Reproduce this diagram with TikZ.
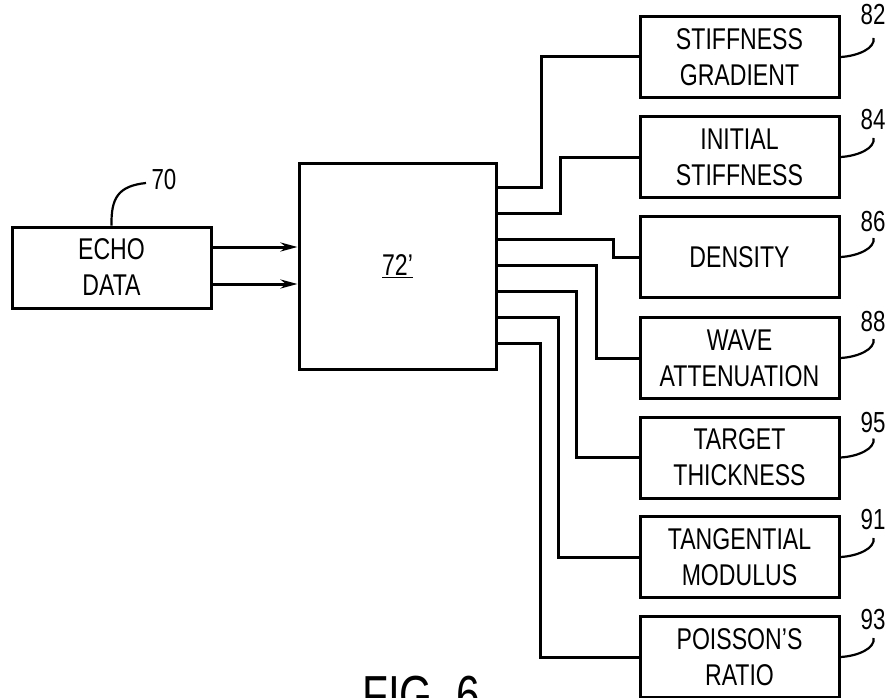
\documentclass[tikz,border=0pt]{standalone}
\usepackage{fontspec}
\setmainfont{Liberation Sans}[FakeStretch=0.77]
\usetikzlibrary{arrows.meta,calc}
\begin{document}
\begin{tikzpicture}[x=1pt,y=-1pt,
  box/.style={draw, line width=3pt, minimum width=199pt, minimum height=81pt, inner sep=0pt, align=center, font=\fontsize{30}{36}\selectfont},
  wire/.style={line width=3pt},
  lead/.style={line width=2.2pt},
  num/.style={font=\fontsize{29}{30}\selectfont, inner sep=0pt},
  arr/.style={wire,-{Stealth[length=17pt,width=9pt]}}]
\useasboundingbox (0,0) rectangle (891,698);
\clip (0,0) rectangle (891,698);
\fill[white] (0,0) rectangle (891,698);

% input and processor
\node[box] (echo) at (111.5,267.5) {ECHO\\DATA};
\node[box, minimum width=197pt, minimum height=206pt] (proc) at (397.5,266) {\underline{72'}};

% output boxes
\node[box] (b82) at (739.5,57) {STIFFNESS\\GRADIENT};
\node[box] (b84) at (739.5,157) {INITIAL\\STIFFNESS};
\node[box] (b86) at (739.5,257) {DENSITY};
\node[box] (b88) at (739.5,358) {WAVE\\ATTENUATION};
\node[box] (b95) at (739.5,457.5) {TARGET\\THICKNESS};
\node[box] (b91) at (739.5,557) {TANGENTIAL\\MODULUS};
\node[box] (b93) at (739.5,657) {POISSON'S\\RATIO};

% arrows
\draw[arr] (echo.east |- 0,247) -- (proc.west |- 0,247);
\draw[arr] (echo.east |- 0,284) -- (proc.west |- 0,284);

% wires
\coordinate (p1) at (proc.east |- 0,187);
\coordinate (p2) at (proc.east |- 0,213);
\coordinate (p3) at (proc.east |- 0,239);
\coordinate (p4) at (proc.east |- 0,265);
\coordinate (p5) at (proc.east |- 0,291);
\coordinate (p6) at (proc.east |- 0,317);
\coordinate (p7) at (proc.east |- 0,343);
\draw[wire] (p1) -- ++(44,0) |- (b82.west);
\draw[wire] (p2) -- ++(63,0) |- (b84.west);
\draw[wire] (p3) -- ++(116,0) |- (b86.west);
\draw[wire] (p4) -- ++(99,0) |- (b88.west);
\draw[wire] (p5) -- ++(79,0) |- (b95.west);
\draw[wire] (p6) -- ++(61,0) |- (b91.west);
\draw[wire] (p7) -- ++(43,0) |- (b93.west);

% reference numerals
\node[num] (n70) at (164,180) {70};
\coordinate (l70) at (146,183);
\draw[lead] (echo.north) .. controls (111,198) and (118,186) .. (l70);

\foreach \b/\ny in {82/15, 84/120, 86/222, 88/322, 95/423, 91/520, 93/620}{
  \node[num] (n\b) at (873,\ny) {\b};
  \coordinate (e\b) at ($(b\b.east)+(33,-19)$);
  \coordinate (c\b) at ($(b\b.east)+(18,-1)$);
  \coordinate (d\b) at ($(b\b.east)+(35,-9)$);
  \draw[lead] (b\b.east) .. controls (c\b) and (d\b) .. (e\b);
}

\node[anchor=base west, font=\fontsize{55}{60}\selectfont, inner sep=0pt] (fig) at (362,714) {FIG. 6};
\end{tikzpicture}
\end{document}
